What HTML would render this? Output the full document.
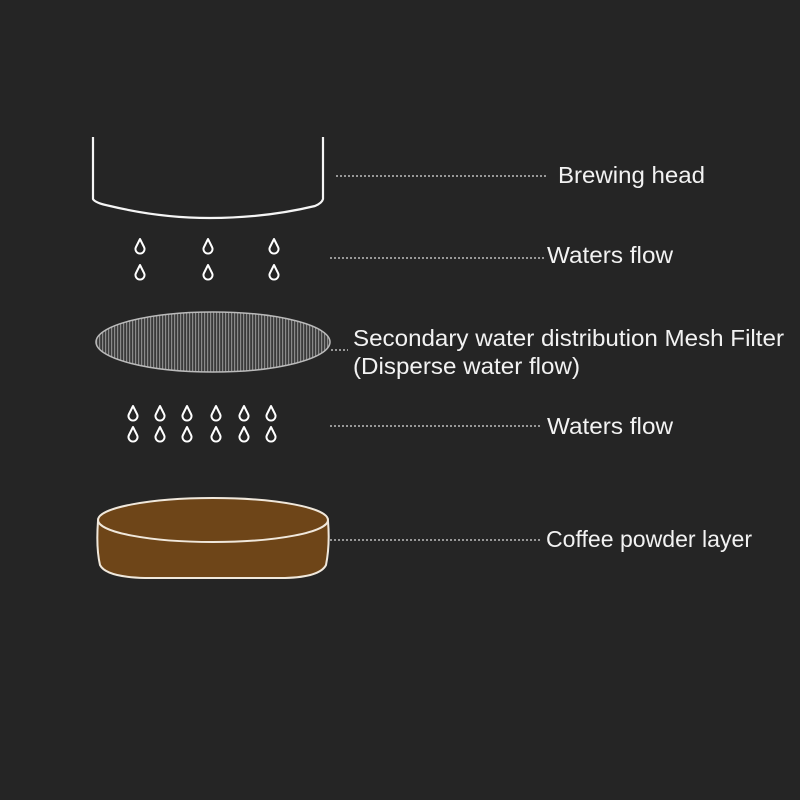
<!DOCTYPE html>
<html><head><meta charset="utf-8"><style>
html,body{margin:0;padding:0;background:#252525;}
svg{display:block}
text{font-family:"Liberation Sans",Arial,sans-serif;fill:#f2f2f2;font-size:23px;}
</style></head><body>
<svg width="800" height="800" viewBox="0 0 800 800" xmlns="http://www.w3.org/2000/svg">
<defs>
<pattern id="mesh" width="3" height="10" patternUnits="userSpaceOnUse">
<rect width="3" height="10" fill="#3a3a3a"/>
<rect width="1.2" height="10" fill="#8a8a8a"/>
</pattern>
<g id="d"><path d="M0,-7 L-4,1 A4.5,4.5 0 1 0 4,1 Z" fill="none" stroke="#fff" stroke-width="2" stroke-linejoin="round"/></g>
</defs>
<rect width="800" height="800" fill="#252525"/>
<path d="M93,137 L93,199 Q95,203 110,206 Q160,218 210,218 Q265,218 315,206 Q322,203 323,199 L323,137" fill="none" stroke="#f5f5f5" stroke-width="2.2"/>
<use href="#d" x="140" y="246"/><use href="#d" x="208" y="246"/><use href="#d" x="274" y="246"/>
<use href="#d" x="140" y="272"/><use href="#d" x="208" y="272"/><use href="#d" x="274" y="272"/>
<ellipse cx="213" cy="342" rx="117" ry="30" fill="url(#mesh)" stroke="#bbb" stroke-width="1.5"/>
<g>
<use href="#d" x="133" y="413"/><use href="#d" x="160" y="413"/><use href="#d" x="187" y="413"/><use href="#d" x="216" y="413"/><use href="#d" x="244" y="413"/><use href="#d" x="271" y="413"/>
<use href="#d" x="133" y="434"/><use href="#d" x="160" y="434"/><use href="#d" x="187" y="434"/><use href="#d" x="216" y="434"/><use href="#d" x="244" y="434"/><use href="#d" x="271" y="434"/>
</g>
<path d="M98,521 Q96,548 100,565 Q106,577 145,578 L285,578 Q320,577 326,565 Q330,545 328,521 Z" fill="#6e4518" stroke="#f0e8dc" stroke-width="2"/>
<ellipse cx="213" cy="520" rx="115" ry="22" fill="#6e4518" stroke="#f0e8dc" stroke-width="2"/>
<g stroke="#ddd" stroke-width="1.3" stroke-dasharray="2,2">
<line x1="336" y1="176" x2="548" y2="176"/>
<line x1="330" y1="258" x2="544" y2="258"/>
<line x1="331" y1="350" x2="348" y2="350"/>
<line x1="330" y1="426" x2="540" y2="426"/>
<line x1="330" y1="540" x2="540" y2="540"/>
</g>
<text x="558" y="183" textLength="147" lengthAdjust="spacingAndGlyphs">Brewing head</text>
<text x="547" y="263" textLength="126" lengthAdjust="spacingAndGlyphs">Waters flow</text>
<text x="353" y="346" textLength="431" lengthAdjust="spacingAndGlyphs">Secondary water distribution Mesh Filter</text>
<text x="353" y="374" textLength="227" lengthAdjust="spacingAndGlyphs">(Disperse water flow)</text>
<text x="547" y="434" textLength="126" lengthAdjust="spacingAndGlyphs">Waters flow</text>
<text x="546" y="547" textLength="206" lengthAdjust="spacingAndGlyphs">Coffee powder layer</text>
</svg>
</body></html>
